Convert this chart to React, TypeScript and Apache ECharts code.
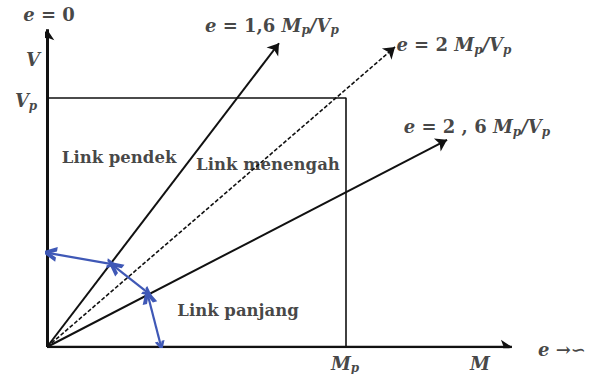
import React, { useEffect, useRef } from "react";
import * as echarts from "echarts";

// Normalised units: M / Mp on x, V / Vp on y
const xAxisLine = [[0, 0], [1.555, 0]];
const yAxisLine = [[0, 0], [0, 1.276]];
const plasticBox = [[0, 1], [1, 1], [1, 0]];
const lineE16 = [[0, 0], [0.776, 1.22]];
const lineE2 = [[0, 0], [1.164, 1.205]];
const lineE26 = [[0, 0], [1.338, 0.832]];
const blueArrows = [
  [[0.007, 0.377], [0.217, 0.333]],
  [[0.224, 0.325], [0.338, 0.217]],
  [[0.338, 0.205], [0.381, 0.004]],
];
// [x, y, text]
const mathLabels: [number, number, string][] = [
  [0.007, 1.337, "{m|e}{n| = 0}"],
  [-0.047, 1.153, "{m|V}"],
  [-0.07, 0.99, "{m|V}{s|p}"],
  [0.997, -0.066, "{m|M}{s|p}"],
  [1.448, -0.068, "{m|M}"],
  [1.722, -0.012, "{m|e}{n| →∽}"],
  [0.752, 1.293, "{m|e}{n| = 1,6 }{m|M}{s|p}{m|/V}{s|p}"],
  [1.361, 1.213, "{m|e}{n| = 2 }{m|M}{s|p}{m|/V}{s|p}"],
  [1.438, 0.884, "{m|e}{n| = 2 , 6 }{m|M}{s|p}{m|/V}{s|p}"],
];
const regionLabels: [number, number, string][] = [
  [0.241, 0.763, "Link pendek"],
  [0.739, 0.731, "Link menengah"],
  [0.639, 0.145, "Link panjang"],
];

const BLACK = "#111";
const BLUE = "#3f58b6";
const TEXT = "#151515";
const chevron = "path://M0,10 L5,0 L10,10 L7,10 L5,5.6 L3,10 Z";

export default function App() {
  const ref = useRef<HTMLDivElement>(null);
  useEffect(() => {
    if (!ref.current) return;
    const chart = echarts.init(ref.current, undefined, { renderer: "svg" });
    const arrowLine = (coords: number[][], width: number, type: any = "solid") => ({
      type: "lines",
      coordinateSystem: "cartesian2d",
      polyline: false,
      silent: true,
      symbol: ["none", "arrow"],
      symbolSize: 11,
      lineStyle: { color: BLACK, width, type, opacity: 1, curveness: 0 },
      data: [{ coords }],
      z: 3,
    });
    const base = {
      fontFamily: "DejaVu Serif",
      fontWeight: "bold",
      color: TEXT,
    };
    chart.setOption({
      animation: false,
      grid: { left: 47, bottom: 27, width: 478.4, height: 318.7 },
      xAxis: { type: "value", min: 0, max: 1.6, show: false },
      yAxis: { type: "value", min: 0, max: 1.28, show: false },
      series: [
        {
          type: "line",
          data: plasticBox,
          symbol: "none",
          lineStyle: { color: BLACK, width: 1.6 },
          silent: true,
          z: 2,
        },
        arrowLine(xAxisLine, 2.4),
        arrowLine(yAxisLine, 3),
        arrowLine(lineE16, 2),
        arrowLine(lineE2, 1.6, [4, 2]),
        arrowLine(lineE26, 2),
        {
          type: "lines",
          coordinateSystem: "cartesian2d",
          silent: true,
          symbol: [chevron, chevron],
          symbolSize: [15, 10],
          lineStyle: { color: BLUE, width: 2.2, opacity: 1 },
          itemStyle: { color: BLUE },
          data: blueArrows.map((c) => ({ coords: c })),
          z: 4,
        },
        {
          type: "scatter",
          clip: false,
          symbolSize: 0,
          silent: true,
          data: mathLabels.map((d) => ({ value: [d[0], d[1]], text: d[2] })),
          label: {
            show: true,
            position: "inside",
            formatter: (p: any) => p.data.text,
            rich: {
              m: { ...base, fontStyle: "italic", fontSize: 18, lineHeight: 22 },
              n: { ...base, fontSize: 18, lineHeight: 22 },
              s: {
                ...base,
                fontStyle: "italic",
                fontSize: 12,
                lineHeight: 14,
                padding: [10, 0, 0, 0],
              },
            },
          },
          z: 5,
        },
        {
          type: "scatter",
          clip: false,
          symbolSize: 0,
          silent: true,
          data: regionLabels.map((d) => ({ value: [d[0], d[1]], text: d[2] })),
          label: {
            show: true,
            position: "inside",
            formatter: (p: any) => p.data.text,
            ...base,
            fontSize: 16.5,
          },
          z: 5,
        },
      ],
    });
    return () => chart.dispose();
  }, []);
  return <div ref={ref} style={{ width: 597, height: 374, position: "absolute", left: 0, top: 0 }} />;
}
